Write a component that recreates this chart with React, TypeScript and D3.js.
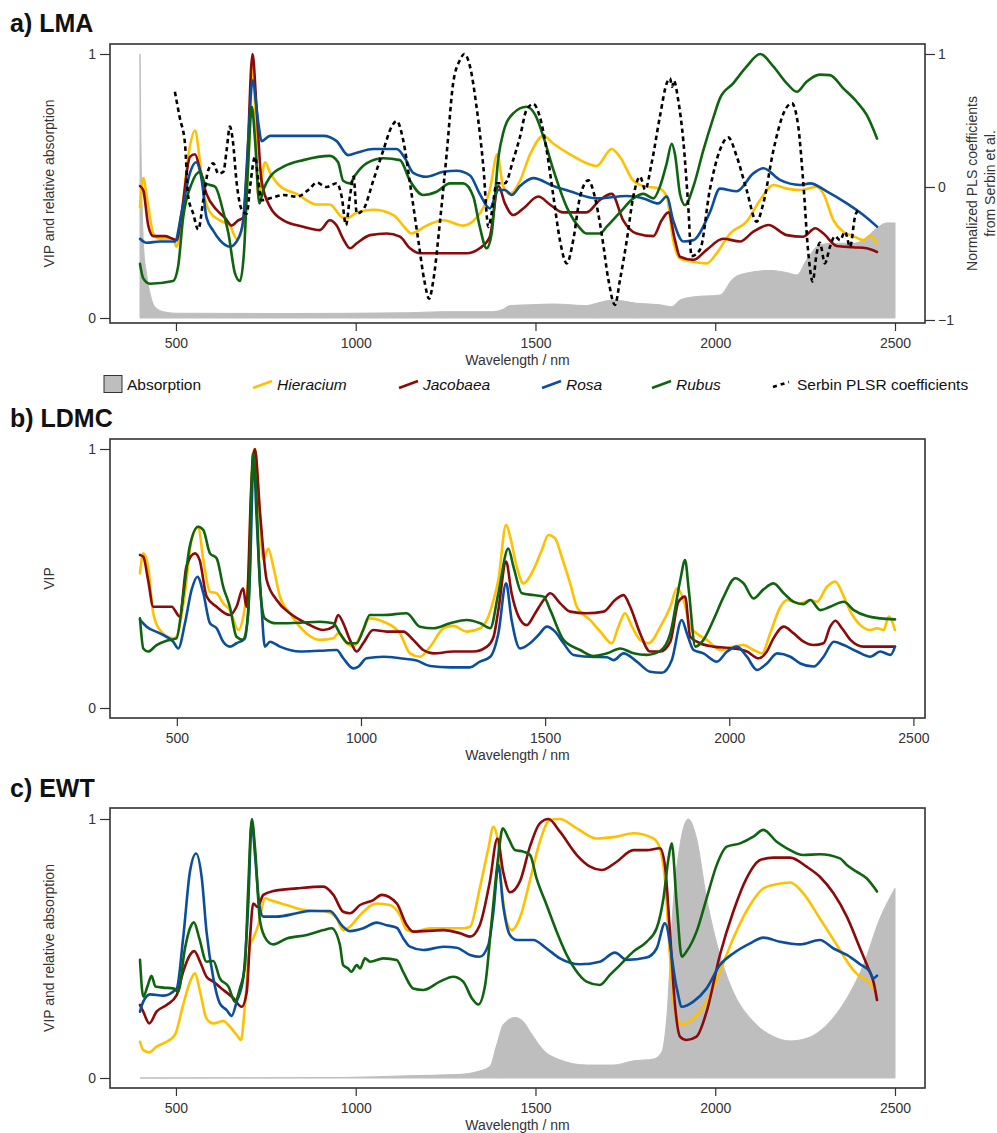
import * as React from "react";
import * as d3 from "d3";
import { select, axisBottom, axisLeft, axisRight } from "d3";

type Pt = [number, number];

const FONT = "'Liberation Sans', Arial, Helvetica, sans-serif";

const speciesNames = ["Hieracium", "Jacobaea", "Rosa", "Rubus"];
const speciesColors = ["#FFC000", "#8B0A0A", "#0B4F9C", "#0F640F"];
const absorptionColor = "#BEBEBE";

const xTicks = [500, 1000, 1500, 2000, 2500];
const yTicks = [0, 1];
const serbinTicks = [-1, 0, 1];

// ---- a) LMA ----
const lmaHieracium: Pt[] = [[400,0.42],[409,0.53],[420,0.45],[437,0.32],[455,0.30],[492,0.30],[502,0.27],[515,0.38],[535,0.62],[553,0.71],[566,0.60],[576,0.485],[595,0.40],[622,0.37],[650,0.35],[669,0.30],[687,0.35],[700,0.55],[713,0.97],[720,0.80],[729,0.46],[748,0.59],[762,0.55],[789,0.50],[836,0.47],[891,0.43],[928,0.43],[965,0.38],[979,0.38],[1003,0.40],[1049,0.41],[1105,0.39],[1132,0.35],[1155,0.32],[1197,0.35],[1244,0.37],[1299,0.35],[1336,0.38],[1373,0.485],[1394,0.62],[1410,0.50],[1429,0.47],[1457,0.52],[1485,0.62],[1522,0.69],[1550,0.66],[1596,0.62],[1670,0.576],[1712,0.64],[1735,0.61],[1772,0.52],[1800,0.50],[1846,0.49],[1865,0.46],[1883,0.295],[1902,0.226],[1939,0.213],[1976,0.207],[2004,0.245],[2041,0.32],[2087,0.365],[2125,0.447],[2162,0.504],[2199,0.49],[2236,0.485],[2282,0.497],[2301,0.47],[2329,0.37],[2356,0.327],[2384,0.31],[2412,0.295],[2430,0.31],[2450,0.283]];
const lmaJacobaea: Pt[] = [[400,0.50],[409,0.485],[423,0.35],[437,0.31],[470,0.31],[502,0.295],[516,0.40],[539,0.61],[553,0.62],[567,0.56],[585,0.47],[613,0.41],[636,0.38],[655,0.35],[673,0.37],[687,0.38],[697,0.55],[713,1.0],[724,0.80],[738,0.52],[762,0.42],[799,0.37],[854,0.346],[900,0.333],[928,0.37],[947,0.35],[965,0.30],[984,0.264],[1003,0.283],[1040,0.314],[1086,0.32],[1123,0.308],[1151,0.264],[1179,0.245],[1244,0.245],[1308,0.245],[1345,0.264],[1373,0.308],[1397,0.50],[1415,0.434],[1438,0.39],[1466,0.415],[1508,0.46],[1540,0.43],[1577,0.40],[1642,0.40],[1679,0.447],[1712,0.47],[1744,0.37],[1781,0.32],[1828,0.31],[1851,0.37],[1870,0.40],[1888,0.295],[1902,0.232],[1939,0.22],[1976,0.258],[2022,0.30],[2069,0.29],[2106,0.327],[2148,0.352],[2199,0.314],[2245,0.308],[2278,0.34],[2301,0.32],[2338,0.273],[2384,0.268],[2421,0.264],[2450,0.25]];
const lmaRosa: Pt[] = [[400,0.30],[418,0.285],[455,0.29],[497,0.29],[516,0.40],[539,0.55],[556,0.59],[572,0.52],[585,0.38],[604,0.33],[622,0.295],[650,0.27],[673,0.30],[687,0.37],[701,0.67],[713,0.90],[729,0.74],[738,0.67],[762,0.69],[836,0.69],[910,0.69],[947,0.67],[979,0.617],[1003,0.626],[1049,0.64],[1114,0.64],[1137,0.605],[1160,0.55],[1197,0.535],[1244,0.554],[1281,0.558],[1318,0.54],[1345,0.47],[1373,0.415],[1397,0.485],[1415,0.485],[1434,0.466],[1457,0.50],[1494,0.53],[1550,0.50],[1596,0.48],[1670,0.453],[1754,0.462],[1800,0.453],[1842,0.434],[1865,0.46],[1883,0.37],[1911,0.29],[1939,0.295],[1985,0.40],[2013,0.49],[2060,0.48],[2106,0.548],[2134,0.567],[2180,0.523],[2236,0.504],[2264,0.51],[2310,0.48],[2366,0.434],[2412,0.39],[2450,0.346]];
const lmaRubus: Pt[] = [[400,0.205],[409,0.15],[428,0.13],[492,0.14],[506,0.195],[520,0.38],[544,0.51],[567,0.554],[581,0.51],[595,0.504],[609,0.497],[632,0.40],[646,0.32],[664,0.17],[678,0.14],[689,0.245],[701,0.586],[711,0.80],[720,0.674],[732,0.434],[743,0.485],[762,0.535],[799,0.573],[854,0.598],[928,0.614],[951,0.59],[965,0.52],[984,0.51],[998,0.54],[1030,0.586],[1077,0.605],[1123,0.598],[1151,0.52],[1188,0.466],[1225,0.478],[1262,0.51],[1299,0.51],[1327,0.46],[1345,0.346],[1364,0.264],[1378,0.32],[1397,0.61],[1410,0.70],[1438,0.775],[1475,0.80],[1499,0.77],[1522,0.687],[1550,0.56],[1587,0.42],[1624,0.34],[1642,0.32],[1679,0.32],[1698,0.346],[1735,0.40],[1772,0.453],[1800,0.47],[1828,0.453],[1846,0.497],[1865,0.586],[1879,0.66],[1888,0.62],[1902,0.47],[1916,0.428],[1939,0.497],[1967,0.636],[1995,0.76],[2013,0.832],[2050,0.889],[2087,0.952],[2125,1.0],[2162,0.952],[2199,0.889],[2227,0.857],[2254,0.895],[2291,0.922],[2319,0.92],[2356,0.87],[2393,0.82],[2421,0.77],[2450,0.68]];
const lmaAbsorption: Pt[] = [[400,1.0],[403,0.62],[406,0.42],[410,0.27],[418,0.17],[428,0.093],[441,0.043],[465,0.024],[502,0.018],[800,0.017],[1151,0.02],[1244,0.024],[1380,0.024],[1410,0.033],[1429,0.047],[1485,0.05],[1550,0.053],[1642,0.047],[1670,0.056],[1717,0.068],[1781,0.056],[1846,0.05],[1879,0.043],[1902,0.068],[1939,0.08],[2013,0.087],[2050,0.15],[2087,0.17],[2152,0.18],[2199,0.172],[2227,0.163],[2254,0.22],[2291,0.277],[2329,0.283],[2384,0.283],[2412,0.295],[2449,0.34],[2477,0.36],[2500,0.36]];
const serbinCoefficients: Pt[] = [[497,0.717],[511,0.516],[525,0.33],[534,-0.07],[548,-0.2],[562,-0.32],[576,-0.1],[590,0.128],[604,0.178],[618,0.10],[632,0.115],[641,0.278],[650,0.454],[658,0.353],[669,0.028],[683,-0.17],[697,-0.2],[706,0.0],[720,0.228],[729,0.05],[738,-0.1],[762,-0.085],[799,-0.06],[836,-0.073],[873,-0.01],[891,0.033],[919,0.0],[947,0.028],[961,-0.073],[973,-0.286],[984,-0.07],[994,0.078],[1003,-0.2],[1021,-0.17],[1049,0.05],[1077,0.278],[1100,0.454],[1114,0.496],[1132,0.353],[1151,0.028],[1174,-0.4],[1192,-0.72],[1204,-0.84],[1216,-0.70],[1234,-0.27],[1253,0.25],[1271,0.78],[1290,0.955],[1302,1.0],[1318,0.905],[1336,0.604],[1355,0.153],[1369,-0.30],[1378,-0.2],[1392,0.028],[1415,0.028],[1438,0.203],[1457,0.378],[1475,0.579],[1494,0.624],[1512,0.529],[1531,0.278],[1550,-0.073],[1568,-0.40],[1587,-0.574],[1605,-0.40],[1624,-0.073],[1647,0.05],[1665,-0.073],[1684,-0.35],[1703,-0.70],[1721,-0.887],[1735,-0.70],[1754,-0.40],[1772,-0.073],[1791,0.078],[1805,-0.02],[1823,0.178],[1846,0.529],[1865,0.78],[1874,0.817],[1880,0.754],[1885,0.80],[1897,0.654],[1911,0.353],[1925,-0.148],[1934,-0.52],[1958,-0.47],[1985,-0.02],[2013,0.278],[2036,0.373],[2060,0.228],[2087,-0.02],[2115,-0.26],[2134,-0.12],[2162,0.278],[2190,0.554],[2213,0.629],[2231,0.454],[2245,0.028],[2259,-0.50],[2271,-0.71],[2282,-0.50],[2291,-0.42],[2305,-0.574],[2319,-0.45],[2333,-0.37],[2347,-0.40],[2361,-0.336],[2375,-0.45],[2389,-0.22],[2398,-0.17]];

// ---- b) LDMC ----
const ldmcHieracium: Pt[] = [[400,0.52],[409,0.597],[422,0.546],[436,0.366],[454,0.301],[490,0.269],[499,0.275],[522,0.443],[540,0.649],[558,0.70],[572,0.571],[590,0.449],[608,0.443],[626,0.404],[644,0.378],[667,0.301],[685,0.391],[694,0.494],[707,0.983],[712,1.0],[721,0.842],[735,0.571],[748,0.616],[762,0.546],[780,0.43],[807,0.366],[852,0.288],[888,0.263],[925,0.269],[938,0.288],[961,0.25],[979,0.237],[997,0.275],[1024,0.346],[1061,0.333],[1106,0.288],[1133,0.211],[1160,0.198],[1188,0.237],[1224,0.308],[1251,0.317],[1287,0.295],[1324,0.308],[1346,0.353],[1360,0.417],[1373,0.494],[1394,0.707],[1405,0.662],[1423,0.546],[1441,0.481],[1468,0.533],[1491,0.61],[1509,0.668],[1527,0.655],[1545,0.584],[1568,0.481],[1586,0.391],[1622,0.34],[1650,0.295],[1681,0.25],[1699,0.314],[1717,0.366],[1736,0.314],[1758,0.263],[1781,0.25],[1813,0.314],[1840,0.391],[1858,0.462],[1876,0.417],[1894,0.314],[1912,0.288],[1939,0.263],[1976,0.224],[2012,0.237],[2039,0.243],[2066,0.224],[2089,0.211],[2111,0.288],[2139,0.391],[2157,0.417],[2193,0.404],[2220,0.417],[2238,0.41],[2265,0.468],[2288,0.488],[2311,0.43],[2329,0.372],[2356,0.32],[2383,0.301],[2401,0.308],[2419,0.301],[2433,0.353],[2450,0.301]];
const ldmcJacobaea: Pt[] = [[400,0.591],[409,0.584],[422,0.494],[436,0.391],[454,0.391],[486,0.391],[508,0.353],[526,0.546],[549,0.597],[562,0.571],[581,0.43],[608,0.391],[644,0.359],[662,0.391],[680,0.462],[689,0.391],[703,0.88],[712,1.0],[726,0.752],[744,0.494],[771,0.417],[807,0.366],[852,0.327],[898,0.301],[925,0.314],[938,0.359],[952,0.327],[970,0.263],[988,0.218],[1006,0.25],[1033,0.301],[1070,0.295],[1115,0.295],[1142,0.263],[1169,0.224],[1197,0.211],[1251,0.218],[1305,0.218],[1342,0.237],[1360,0.275],[1373,0.378],[1394,0.565],[1409,0.443],[1428,0.353],[1450,0.32],[1473,0.366],[1496,0.417],[1514,0.443],[1541,0.404],[1568,0.372],[1613,0.366],[1659,0.372],[1690,0.417],[1713,0.436],[1731,0.391],[1758,0.288],[1785,0.218],[1813,0.218],[1840,0.256],[1862,0.41],[1880,0.43],[1894,0.275],[1921,0.25],[1957,0.237],[2012,0.23],[2048,0.218],[2080,0.192],[2102,0.218],[2120,0.269],[2148,0.314],[2175,0.288],[2202,0.256],[2229,0.243],[2256,0.25],[2274,0.314],[2288,0.337],[2306,0.308],[2329,0.263],[2365,0.237],[2410,0.237],[2450,0.237]];
const ldmcRosa: Pt[] = [[400,0.34],[418,0.314],[454,0.288],[490,0.256],[504,0.23],[522,0.327],[540,0.456],[556,0.507],[572,0.443],[590,0.327],[608,0.308],[626,0.256],[644,0.237],[662,0.25],[685,0.269],[698,0.494],[709,0.97],[716,0.752],[730,0.391],[739,0.237],[753,0.256],[780,0.237],[834,0.218],[888,0.221],[934,0.224],[952,0.192],[979,0.153],[993,0.16],[1015,0.192],[1061,0.198],[1106,0.192],[1151,0.183],[1188,0.162],[1242,0.157],[1296,0.157],[1323,0.179],[1351,0.198],[1373,0.288],[1394,0.481],[1409,0.34],[1432,0.23],[1459,0.25],[1482,0.282],[1505,0.314],[1527,0.295],[1550,0.25],[1577,0.205],[1622,0.198],[1668,0.196],[1686,0.185],[1713,0.211],[1749,0.179],[1785,0.14],[1817,0.136],[1844,0.185],[1871,0.34],[1885,0.288],[1903,0.224],[1930,0.211],[1966,0.179],[1994,0.218],[2021,0.237],[2048,0.198],[2075,0.147],[2102,0.172],[2130,0.211],[2166,0.198],[2193,0.172],[2229,0.16],[2256,0.198],[2284,0.256],[2311,0.243],[2347,0.218],[2383,0.198],[2410,0.218],[2438,0.205],[2450,0.237]];
const ldmcRubus: Pt[] = [[400,0.346],[409,0.23],[422,0.218],[445,0.243],[472,0.26],[499,0.269],[517,0.43],[535,0.623],[558,0.70],[572,0.687],[590,0.597],[608,0.578],[626,0.468],[644,0.391],[662,0.275],[680,0.263],[694,0.366],[707,0.983],[714,0.88],[726,0.468],[739,0.346],[771,0.327],[834,0.329],[888,0.333],[925,0.327],[943,0.288],[966,0.25],[988,0.25],[1006,0.301],[1024,0.359],[1061,0.359],[1124,0.366],[1160,0.314],[1197,0.308],[1242,0.327],[1287,0.34],[1324,0.327],[1351,0.308],[1373,0.443],[1400,0.616],[1414,0.546],[1437,0.443],[1468,0.436],[1496,0.43],[1514,0.378],[1550,0.263],[1595,0.224],[1631,0.201],[1668,0.211],[1704,0.23],[1740,0.211],[1776,0.205],[1813,0.221],[1840,0.288],[1867,0.494],[1880,0.571],[1890,0.456],[1908,0.237],[1930,0.263],[1957,0.34],[1985,0.43],[2016,0.501],[2039,0.481],[2066,0.423],[2093,0.458],[2120,0.481],[2148,0.443],[2175,0.41],[2202,0.401],[2220,0.417],[2247,0.378],[2274,0.391],[2311,0.41],[2338,0.378],[2374,0.355],[2410,0.346],[2450,0.342]];

// ---- c) EWT ----
const ewtHieracium: Pt[] = [[400,0.14],[409,0.108],[426,0.099],[446,0.121],[474,0.14],[497,0.166],[520,0.282],[539,0.372],[553,0.404],[567,0.333],[585,0.23],[604,0.211],[632,0.22],[650,0.198],[669,0.166],[681,0.147],[692,0.282],[706,0.514],[715,0.539],[729,0.591],[748,0.694],[762,0.687],[808,0.668],[854,0.649],[919,0.642],[947,0.616],[965,0.571],[984,0.584],[1012,0.629],[1058,0.674],[1095,0.668],[1123,0.629],[1142,0.571],[1160,0.565],[1207,0.578],[1299,0.578],[1318,0.584],[1345,0.732],[1369,0.887],[1383,0.97],[1394,0.925],[1406,0.732],[1420,0.604],[1434,0.571],[1457,0.62],[1485,0.765],[1512,0.912],[1540,0.996],[1568,1.0],[1615,0.964],[1670,0.925],[1726,0.932],[1772,0.945],[1828,0.925],[1846,0.887],[1860,0.771],[1874,0.475],[1888,0.256],[1907,0.207],[1939,0.23],[1976,0.295],[2013,0.41],[2050,0.539],[2097,0.668],[2134,0.732],[2171,0.748],[2208,0.755],[2245,0.713],[2291,0.616],[2338,0.514],[2384,0.417],[2403,0.391],[2426,0.372],[2450,0.32]];
const ewtJacobaea: Pt[] = [[400,0.282],[409,0.256],[426,0.211],[446,0.256],[474,0.282],[502,0.32],[520,0.41],[539,0.475],[551,0.49],[567,0.449],[585,0.391],[604,0.372],[632,0.34],[660,0.308],[683,0.275],[697,0.333],[706,0.54],[715,0.674],[727,0.66],[743,0.707],[771,0.722],[836,0.732],[910,0.739],[938,0.707],[965,0.642],[984,0.636],[1012,0.668],[1049,0.687],[1072,0.707],[1114,0.674],[1142,0.59],[1160,0.565],[1244,0.571],[1290,0.559],[1318,0.546],[1345,0.59],[1373,0.758],[1394,0.925],[1410,0.797],[1429,0.717],[1457,0.76],[1485,0.895],[1512,0.983],[1536,1.0],[1568,0.951],[1615,0.861],[1652,0.816],[1684,0.803],[1726,0.835],[1772,0.88],[1809,0.88],[1846,0.887],[1860,0.822],[1874,0.565],[1888,0.282],[1902,0.16],[1920,0.147],[1948,0.16],[1976,0.256],[2013,0.475],[2050,0.642],[2087,0.771],[2125,0.842],[2162,0.851],[2208,0.851],[2254,0.816],[2291,0.777],[2329,0.713],[2366,0.623],[2403,0.50],[2426,0.423],[2440,0.372],[2450,0.301]];
const ewtRosa: Pt[] = [[400,0.256],[409,0.295],[428,0.323],[465,0.318],[502,0.346],[520,0.54],[539,0.797],[556,0.867],[572,0.77],[585,0.565],[604,0.385],[622,0.288],[641,0.262],[655,0.24],[669,0.295],[687,0.385],[701,0.668],[711,0.99],[720,0.86],[732,0.668],[743,0.623],[780,0.623],[836,0.636],[873,0.645],[928,0.645],[965,0.584],[984,0.567],[1021,0.578],[1058,0.60],[1086,0.59],[1114,0.58],[1132,0.54],[1151,0.507],[1188,0.494],[1244,0.507],[1281,0.503],[1318,0.475],[1345,0.468],[1369,0.514],[1383,0.642],[1397,0.822],[1410,0.668],[1429,0.552],[1448,0.533],[1494,0.533],[1531,0.50],[1568,0.462],[1624,0.439],[1679,0.449],[1721,0.484],[1754,0.456],[1809,0.465],[1837,0.50],[1860,0.597],[1893,0.346],[1907,0.275],[1939,0.295],[1976,0.346],[2013,0.436],[2050,0.481],[2097,0.52],[2134,0.542],[2180,0.526],[2236,0.516],[2291,0.533],[2329,0.50],[2366,0.475],[2403,0.439],[2430,0.41],[2440,0.385],[2450,0.395]];
const ewtRubus: Pt[] = [[400,0.456],[409,0.314],[422,0.359],[432,0.395],[443,0.353],[465,0.349],[492,0.346],[506,0.333],[525,0.50],[539,0.578],[550,0.601],[565,0.539],[585,0.449],[604,0.452],[622,0.385],[646,0.353],[664,0.295],[678,0.346],[692,0.436],[701,0.732],[711,1.0],[720,0.887],[734,0.604],[752,0.533],[771,0.516],[808,0.539],[864,0.552],[910,0.571],[933,0.578],[956,0.514],[965,0.436],[979,0.423],[988,0.41],[1003,0.436],[1012,0.423],[1026,0.462],[1040,0.449],[1077,0.462],[1114,0.456],[1132,0.41],[1160,0.346],[1188,0.34],[1234,0.372],[1271,0.391],[1299,0.372],[1323,0.308],[1341,0.284],[1360,0.359],[1378,0.604],[1397,0.861],[1409,0.964],[1425,0.925],[1443,0.88],[1466,0.874],[1485,0.861],[1503,0.771],[1531,0.668],[1559,0.565],[1587,0.475],[1615,0.41],[1642,0.372],[1679,0.359],[1707,0.398],[1735,0.436],[1772,0.488],[1809,0.526],[1837,0.578],[1856,0.694],[1870,0.848],[1879,0.906],[1893,0.668],[1907,0.468],[1920,0.488],[1948,0.565],[1976,0.694],[2004,0.822],[2032,0.893],[2069,0.906],[2106,0.932],[2134,0.958],[2171,0.912],[2199,0.887],[2245,0.861],[2291,0.864],[2347,0.848],[2366,0.822],[2393,0.797],[2421,0.771],[2450,0.72]];
const ewtAbsorption: Pt[] = [[400,0.0],[965,0.002],[1151,0.009],[1290,0.014],[1336,0.024],[1373,0.044],[1392,0.127],[1410,0.205],[1443,0.234],[1466,0.218],[1485,0.179],[1522,0.108],[1568,0.07],[1642,0.05],[1717,0.05],[1772,0.066],[1828,0.073],[1851,0.10],[1865,0.23],[1883,0.668],[1902,0.90],[1925,1.0],[1948,0.925],[1976,0.694],[2013,0.475],[2050,0.333],[2106,0.218],[2162,0.16],[2208,0.143],[2254,0.153],[2310,0.205],[2366,0.308],[2412,0.436],[2458,0.616],[2500,0.732]];

const BOX_LEFT = 110;
const BOX_RIGHT = 925;

interface PanelProps {
  title: string;
  titleY: number;
  top: number;
  bottom: number;
  y0: number;
  y1: number;
  wlMax: number;
  series: Pt[][];
  absorption?: Pt[];
  serbin?: Pt[];
  yLabel: string;
}

function Panel(props: PanelProps) {
  const { title, titleY, top, bottom, y0, y1, wlMax, series, absorption, serbin, yLabel } = props;
  const x = d3.scaleLinear().domain([400, wlMax]).range([140, 895]);
  const y = d3.scaleLinear().domain([0, 1]).range([y0, y1]);
  const yR = d3.scaleLinear().domain([-1, 1]).range([y0 + 2, y1]);

  const line = d3
    .line<Pt>()
    .x(d => x(d[0]))
    .y(d => y(d[1]))
    .curve(d3.curveMonotoneX);
  const serbinLine = d3
    .line<Pt>()
    .x(d => x(d[0]))
    .y(d => yR(d[1]))
    .curve(d3.curveMonotoneX);
  const area = d3
    .area<Pt>()
    .x(d => x(d[0]))
    .y0(y(0))
    .y1(d => y(d[1]))
    .curve(d3.curveMonotoneX);

  const styleAxis = (g: any) => {
    g.select(".domain").remove();
    g.attr("font-family", FONT).attr("font-size", 14);
    g.selectAll("line").attr("stroke", "#333").attr("stroke-width", 1.2);
    g.selectAll("text").attr("fill", "#333");
  };

  const midX = (BOX_LEFT + BOX_RIGHT) / 2;
  const midY = (top + bottom) / 2;

  return (
    <g>
      <text x={10} y={titleY} fontFamily={FONT} fontWeight="bold" fontSize={25} fill="#111">
        {title}
      </text>
      {absorption && (
        <path d={area(absorption) as string} fill={absorptionColor} stroke={absorptionColor} strokeWidth={1} />
      )}
      {series.map((s, i) => (
        <path
          key={speciesNames[i]}
          d={line(s) as string}
          fill="none"
          stroke={speciesColors[i]}
          strokeWidth={2.6}
          strokeLinejoin="round"
          strokeLinecap="round"
        />
      ))}
      {serbin && (
        <path
          d={serbinLine(serbin) as string}
          fill="none"
          stroke="#000"
          strokeWidth={2.6}
          strokeDasharray="4.5,3.5"
        />
      )}
      <rect
        x={BOX_LEFT}
        y={top}
        width={BOX_RIGHT - BOX_LEFT}
        height={bottom - top}
        fill="none"
        stroke="#333"
        strokeWidth={1.6}
      />
      <g
        transform={`translate(0,${bottom})`}
        ref={node => {
          if (!node) return;
          const g = select(node);
          g.call(axisBottom(x).tickValues(xTicks).tickSize(8).tickPadding(7).tickFormat(d3.format("d")) as any);
          styleAxis(g);
        }}
      />
      <g
        transform={`translate(${BOX_LEFT},0)`}
        ref={node => {
          if (!node) return;
          const g = select(node);
          g.call(axisLeft(y).tickValues(yTicks).tickSize(10).tickPadding(4).tickFormat(d3.format("d")) as any);
          styleAxis(g);
        }}
      />
      {serbin && (
        <g
          transform={`translate(${BOX_RIGHT},0)`}
          ref={node => {
            if (!node) return;
            const g = select(node);
            g.call(axisRight(yR).tickValues(serbinTicks).tickSize(10).tickPadding(3).tickFormat(d3.format("d")) as any);
            styleAxis(g);
          }}
        />
      )}
      <text x={midX} y={bottom + 42} textAnchor="middle" fontFamily={FONT} fontSize={14} fill="#333">
        Wavelength / nm
      </text>
      <text
        transform={`translate(49,${midY}) rotate(-90)`}
        textAnchor="middle"
        dominantBaseline="central"
        fontFamily={FONT}
        fontSize={14}
        fill="#333"
      >
        {yLabel}
      </text>
      {serbin && (
        <g fontFamily={FONT} fontSize={14} fill="#333" textAnchor="middle">
          <text transform={`translate(972,${midY}) rotate(-90)`} dominantBaseline="central">
            Normalized PLS coefficients
          </text>
          <text transform={`translate(990,${midY}) rotate(-90)`} dominantBaseline="central">
            from Serbin et al.
          </text>
        </g>
      )}
    </g>
  );
}

const legendItems = [
  { label: "Absorption", kind: "box", x: 104, color: absorptionColor, italic: false },
  { label: "Hieracium", kind: "line", x: 253, color: speciesColors[0], italic: true },
  { label: "Jacobaea", kind: "line", x: 399, color: speciesColors[1], italic: true },
  { label: "Rosa", kind: "line", x: 542, color: speciesColors[2], italic: true },
  { label: "Rubus", kind: "line", x: 652, color: speciesColors[3], italic: true },
  { label: "Serbin PLSR coefficients", kind: "dash", x: 773, color: "#000", italic: false }
];

function Legend() {
  const cy = 384;
  return (
    <g fontFamily={FONT} fontSize={15.5} fill="#111">
      {legendItems.map(item => (
        <g key={item.label}>
          {item.kind === "box" && (
            <rect x={item.x} y={cy - 8.5} width={18} height={17} fill={item.color} stroke="#333" strokeWidth={1} />
          )}
          {item.kind === "line" && (
            <line x1={item.x} y1={cy + 4} x2={item.x + 19} y2={cy - 3} stroke={item.color} strokeWidth={2.6} />
          )}
          {item.kind === "dash" && (
            <line
              x1={item.x}
              y1={cy + 3}
              x2={item.x + 16}
              y2={cy - 2}
              stroke={item.color}
              strokeWidth={2.6}
              strokeDasharray="4,4"
            />
          )}
          <text
            x={item.kind === "box" ? item.x + 23 : item.kind === "dash" ? item.x + 24 : item.x + 24}
            y={cy + 5.5}
            fontStyle={item.italic ? "italic" : "normal"}
          >
            {item.label}
          </text>
        </g>
      ))}
    </g>
  );
}

export default function App() {
  return (
    <svg
      width={997}
      height={1133}
      style={{ position: "absolute", left: 0, top: 0, background: "#fff" }}
    >
      <Panel
        title="a) LMA"
        titleY={32}
        top={44}
        bottom={323}
        y0={318}
        y1={54}
        wlMax={2500}
        series={[lmaHieracium, lmaJacobaea, lmaRosa, lmaRubus]}
        absorption={lmaAbsorption}
        serbin={serbinCoefficients}
        yLabel="VIP and relative absorption"
      />
      <Legend />
      <Panel
        title="b) LDMC"
        titleY={427}
        top={439}
        bottom={718}
        y0={708}
        y1={449}
        wlMax={2450}
        series={[ldmcHieracium, ldmcJacobaea, ldmcRosa, ldmcRubus]}
        yLabel="VIP"
      />
      <Panel
        title="c) EWT"
        titleY={797}
        top={808}
        bottom={1088}
        y0={1078}
        y1={819}
        wlMax={2500}
        series={[ewtHieracium, ewtJacobaea, ewtRosa, ewtRubus]}
        absorption={ewtAbsorption}
        yLabel="VIP and relative absorption"
      />
    </svg>
  );
}
